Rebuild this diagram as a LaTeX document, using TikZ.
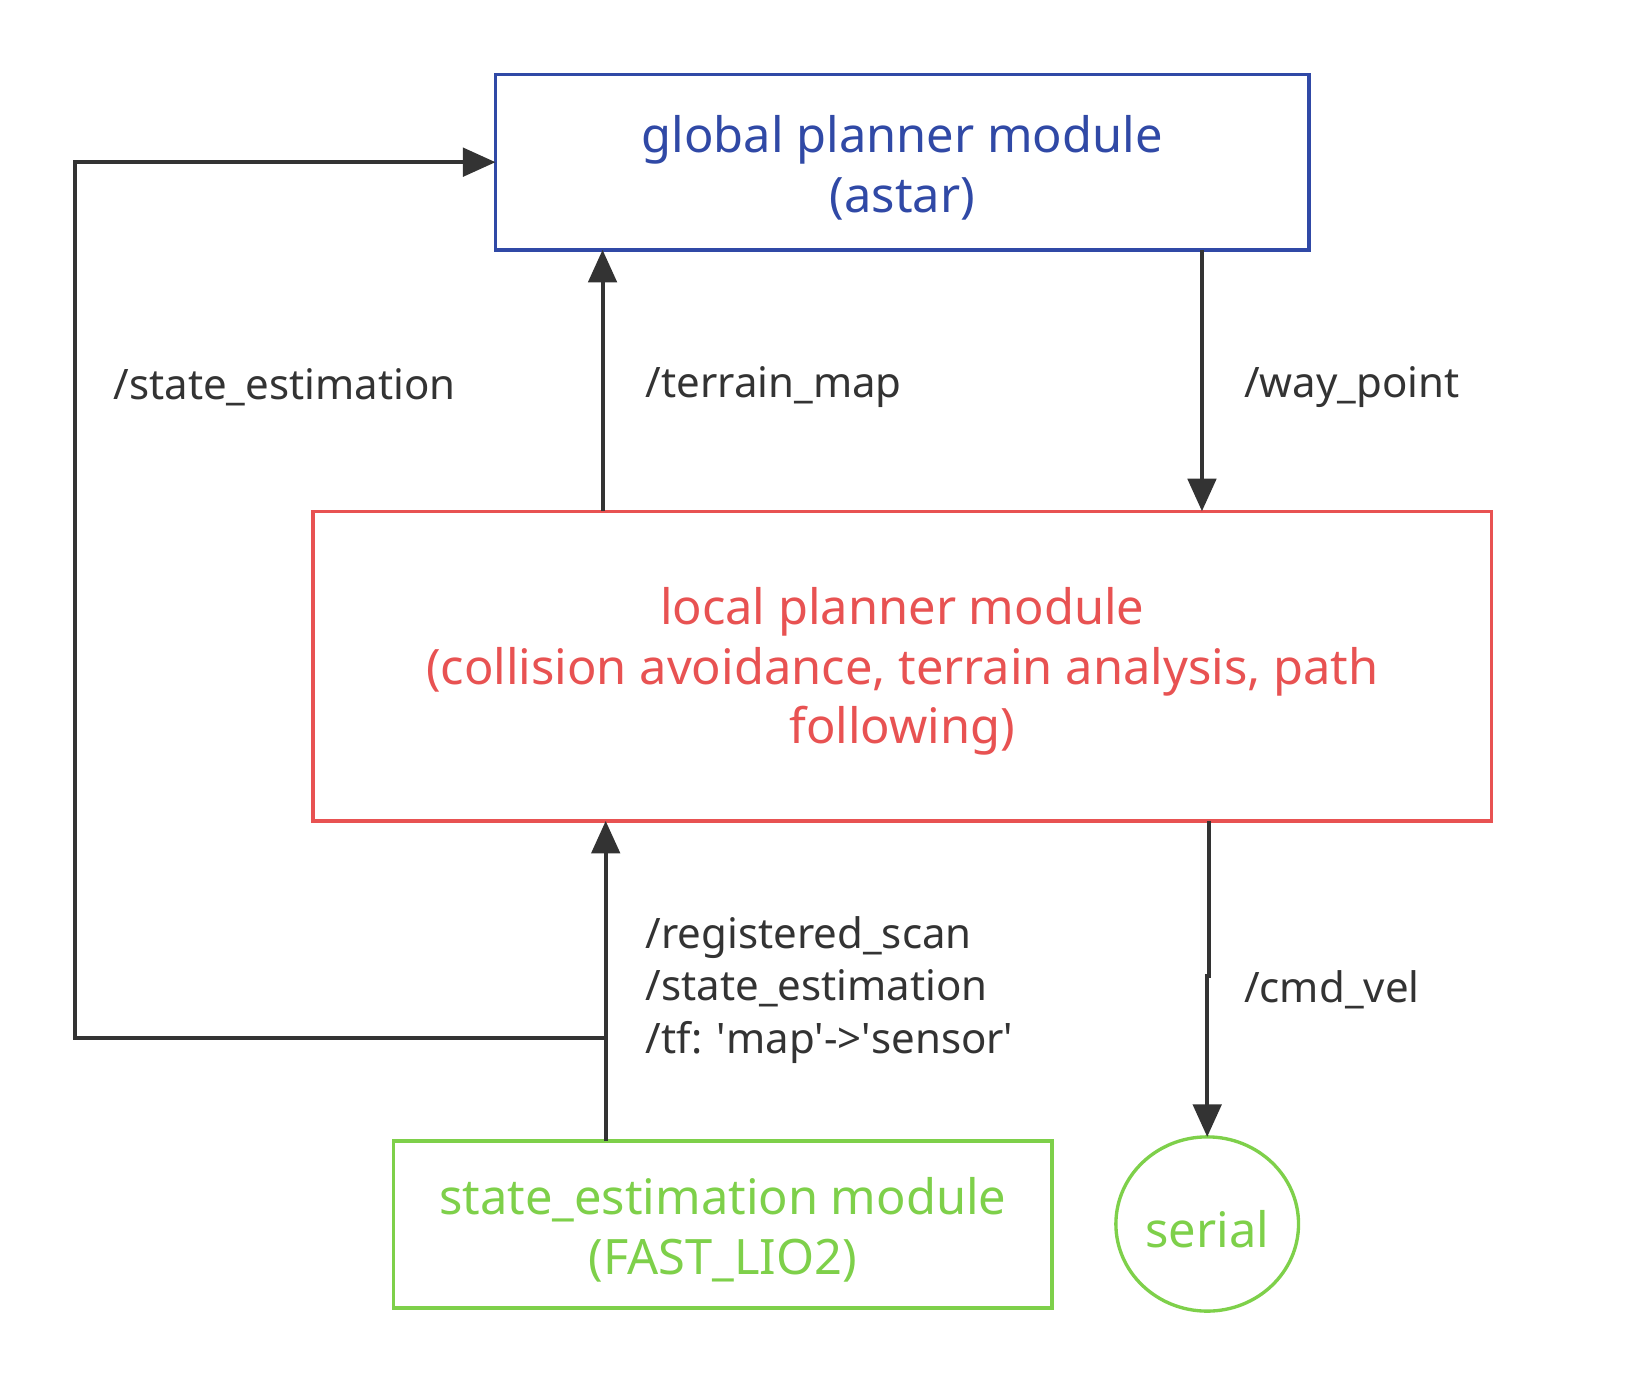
\documentclass[tikz,border=0pt]{standalone}
\usepackage{fontspec}
\setmainfont{Noto Sans}
\usetikzlibrary{arrows.meta,shapes.geometric}
\definecolor{gblue}{HTML}{3049A6}
\definecolor{lred}{HTML}{E85252}
\definecolor{sgreen}{HTML}{7ED04A}
\definecolor{ink}{HTML}{333333}
\newcommand{\dn}[1]{\raisebox{-5pt}[\height][\depth]{#1}}
\begin{document}
\begin{tikzpicture}[x=1pt,y=-1pt,
 box/.style={draw, line width=3.2pt, inner sep=0pt, outer sep=0pt, align=center, font=\fontsize{46.5}{57}\selectfont},
 conn/.style={draw=ink, line width=3.8pt, -{Triangle[length=31pt,width=27pt]}},
 lbl/.style={text=ink, inner sep=0pt, anchor=west, align=left, yshift=-4pt, font=\fontsize{40}{50}\selectfont}]
\useasboundingbox[fill=white] (0,0) rectangle (1568,1321);
\node[box, draw=gblue, text=gblue, minimum width=775pt, minimum height=167pt] (global) at (859.5,154.5) {\dn{global planner module}\\\dn{(astar)}};
\node[box, draw=lred, text=lred, minimum width=1123pt, minimum height=295pt] (local) at (859.5,634.5) {\dn{local planner module}\\\dn{(collision avoidance, terrain analysis, path}\\\dn{following)}};
\node[box, draw=sgreen, text=sgreen, minimum width=627pt, minimum height=159pt] (se) at (688.5,1166.5) {\dn{state\_estimation module}\\\dn{(FAST\_LIO2)}};
\node[box, ellipse, draw=sgreen, text=sgreen, minimum width=174pt, minimum height=166pt] (serial) at (1150,1166) {\dn{serial}};
\coordinate (tx) at (574,0);
\coordinate (wx) at (1145,0);
\coordinate (rx) at (577,0);
\coordinate (lx) at (71,0);
\coordinate (jn) at (577,989);
\coordinate (c1) at (1152,930);
\coordinate (c2) at (1150,930);
\draw[conn] (local.north -| tx) -- (global.south -| tx);
\draw[conn] (global.south -| wx) -- (local.north -| wx);
\draw[conn] (se.north -| rx) -- (local.south -| rx);
\draw[conn] (jn) -- (jn -| lx) |- (global.west);
\draw[conn] (local.south -| c1) -- (c1) -- (c2) -- (serial.north);
\node[lbl] (l1) at (108,365) {/state\_estimation};
\node[lbl] (l2) at (615,365) {/terrain\_map};
\node[lbl] (l3) at (1185,365) {/way\_point};
\node[lbl] (l4) at (615,939) {/registered\_scan\\/state\_estimation\\/tf: \textquotesingle map\textquotesingle->\textquotesingle sensor\textquotesingle};
\node[lbl] (l5) at (1185,939) {/cmd\_vel};
\end{tikzpicture}
\end{document}
